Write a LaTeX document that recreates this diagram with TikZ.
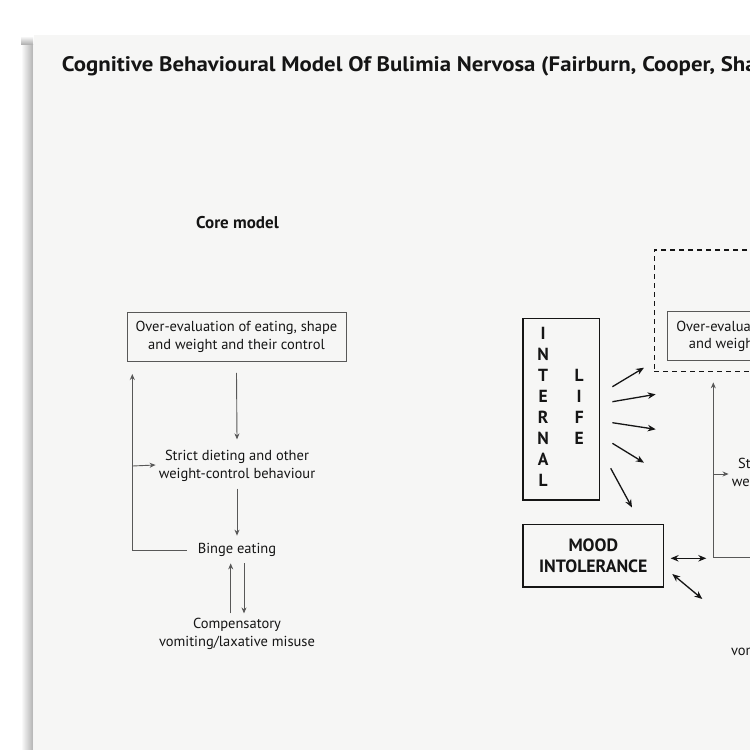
\documentclass[tikz,border=0pt]{standalone}
\usepackage{fontspec}
\setmainfont{PT Sans}
\usetikzlibrary{arrows.meta,calc}
\definecolor{paper}{HTML}{F6F6F5}
\definecolor{ink}{HTML}{151515}
\definecolor{gline}{HTML}{585858}
\tikzset{
  txt/.style={font=\fontsize{14.5}{17.4}\selectfont, text=ink, align=center, inner sep=2pt},
  capbold/.style={font=\bfseries\fontsize{17.8}{20.7}\selectfont, text=ink, align=center},
  gbox/.style={txt, draw=gline, line width=0.9pt, minimum width=219pt, minimum height=49pt},
  garr/.style={draw=gline, line width=0.9pt, -{Stealth[length=6pt,width=5pt]}},
  gline/.style={draw=gline, line width=0.9pt},
  barr/.style={draw=ink, line width=1.3pt, -{Stealth[length=8pt,width=6.5pt]}},
  bdarr/.style={draw=ink, line width=1.3pt, {Stealth[length=8pt,width=6.5pt]}-{Stealth[length=8pt,width=6.5pt]}},
  bbox/.style={draw=ink, line width=1.3pt, inner sep=0pt},
  dbox/.style={draw=ink, line width=1.2pt, dash pattern=on 5pt off 4pt},
}
\newcommand{\ilcell}[1]{\makebox[12pt]{#1}}
\begin{document}
\begin{tikzpicture}[x=1pt,y=-1pt]
\useasboundingbox (0,0) rectangle (750,750);
\clip (0,0) rectangle (750,750);
\fill[white] (0,0) rectangle (750,750);
% paper shadow
\shade[left color=white, right color=black!30] (21,44) rectangle (33,750);
\shade[top color=white, bottom color=black!30] (21,36) rectangle (33,44);
\fill[paper] (34,35) rectangle (750,750);

% title
\node[anchor=base west, inner sep=0, text=ink, font=\bfseries\fontsize{21}{25}\selectfont] (title) at (61.7,71)
  {\scalebox{1.087}[1]{Cognitive Behavioural Model Of Bulimia Nervosa (Fairburn, Cooper, Sha}};

% ---------- core model ----------
\node[anchor=base, inner sep=0, text=ink, font=\bfseries\fontsize{17}{20}\selectfont] (core) at (237.5,228.3) {Core model};

\node[gbox] (ov) at (236.5,337) {Over-evaluation of eating, shape\\and weight and their control};
\node[txt] (sd) at (237,466) {Strict dieting and other\\weight-control behaviour};
\node[txt] (be) at (237,549.5) {Binge eating};
\node[txt] (cv) at (237,634) {Compensatory\\vomiting/laxative misuse};

\coordinate (fbtop) at (132.3,374);
\draw[garr] ($(ov.south)+(0,11)$) -- ($(sd.north)+(0,-9)$);
\draw[garr] ($(sd.south)+(0,5)$) -- ($(be.north)+(0,-5)$);
\draw[garr] ($(cv.north)+(-6.3,-3)$) -- ($(be.south)+(-6.3,5)$);
\draw[garr] ($(be.south)+(7,5)$) -- ($(cv.north)+(7,-3)$);
\draw[garr] (fbtop |- sd.west) -- ($(sd.west)+(-1,-1)$);
\draw[garr] ($(be.west)+(-9,0.5)$) -| (fbtop);

% ---------- extended model ----------
\node[bbox, minimum width=76.3pt, minimum height=181.7pt] (il) at (561.2,409.2)
  {\raisebox{-1.5pt}{\bfseries\fontsize{17.5}{21}\selectfont\color{ink}%
   \begin{tabular}{@{}c@{\hspace{24pt}}c@{}}
   \ilcell{I} & \ilcell{} \\
   \ilcell{N} & \ilcell{} \\
   \ilcell{T} & \ilcell{L} \\
   \ilcell{E} & \ilcell{I} \\
   \ilcell{R} & \ilcell{F} \\
   \ilcell{N} & \ilcell{E} \\
   \ilcell{A} & \ilcell{} \\
   \ilcell{L} & \ilcell{}
   \end{tabular}}};

\node[bbox, capbold, minimum width=140.7pt, minimum height=62.7pt] (mi) at (593.3,555.6) {MOOD\\INTOLERANCE};

\node[dbox, minimum width=260pt, minimum height=121.7pt] (db) at (784.3,310.9) {};
\node[gbox] (ov2) at (777.2,336.2) {Over-evaluation of eating, shape\\and weight and their control};
\node[txt] (sd2) at (810,474) {Strict dieting and other\\weight-control behaviour};
\node[txt] (cv2) at (809,643.5) {Compensatory\\vomiting/laxative misuse};

% arrows from internal life
\coordinate (e1) at (644,367.7);
\coordinate (e2) at (655.7,394.3);
\coordinate (e3) at (655.7,429.3);
\coordinate (e4) at (644,462.7);
\coordinate (e5) at (632,507.5);
\draw[barr] ($(il.east)+(12.4,-22.5)$) -- (e1);
\draw[barr] ($(il.east)+(12.4,-7.5)$) -- (e2);
\draw[barr] ($(il.east)+(12.4,13.5)$) -- (e3);
\draw[barr] ($(il.east)+(12.4,34.1)$) -- (e4);
\draw[barr] ($(il.east)+(10.7,59.1)$) -- (e5);

% grey feedback line, right
\coordinate (gc) at (713.3,557.7);
\coordinate (gend) at (765,557.7);
\draw[gline] (gend) -- (gc);
\draw[garr] (gc) -- ($(db.south -| gc)+(0,10)$);
\draw[garr] (gc |- sd2.west) -- ($(sd2.west)+(-1,0)$);

% mood intolerance double arrows
\coordinate (d2) at (702.3,599);
\draw[bdarr] ($(mi.east)+(6.3,2.7)$) -- ($(gc)+(-7,0.6)$);
\draw[bdarr] ($(mi.east)+(8,18.4)$) -- (d2);
\end{tikzpicture}
\end{document}
